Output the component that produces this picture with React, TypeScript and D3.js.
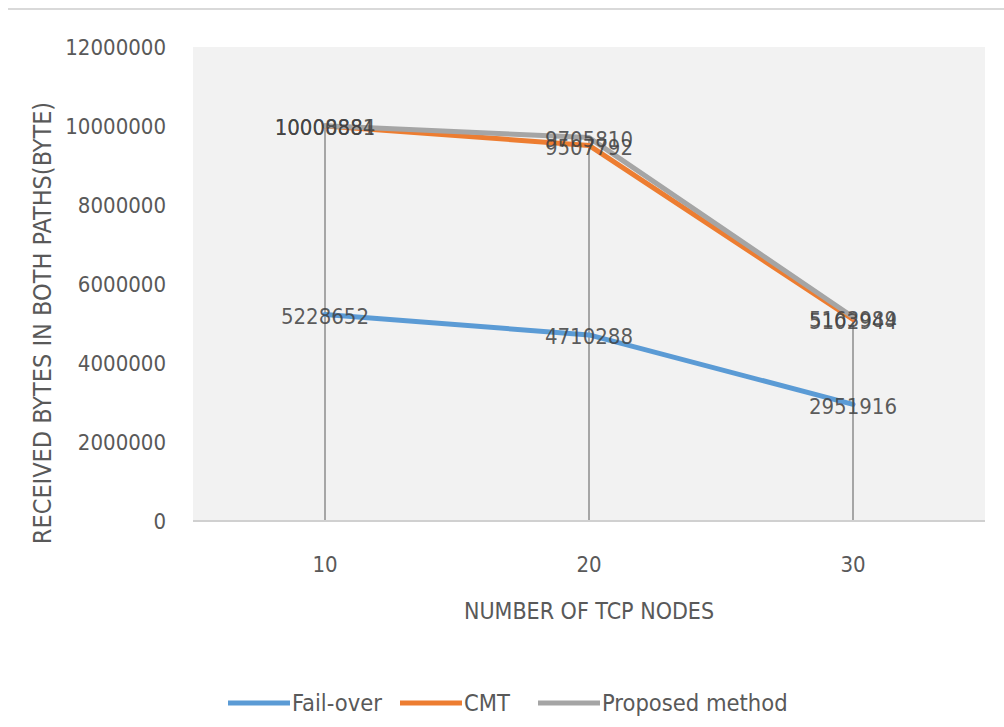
import React from "react";
import * as d3 from "d3";

// Number of TCP nodes on the x axis
const categories = ["10", "20", "30"];
// Received bytes in both paths, per method
const failOver = [5228652, 4710288, 2951916];
const cmt = [10000881, 9507792, 5102944];
const proposed = [10008884, 9705810, 5163989];
const yTicks = [0, 2000000, 4000000, 6000000, 8000000, 10000000, 12000000];

const seriesList = [
  { name: "Fail-over", values: failOver, color: "#5B9BD5" },
  { name: "CMT", values: cmt, color: "#ED7D31" },
  { name: "Proposed method", values: proposed, color: "#A5A5A5" },
];

const W = 1004;
const H = 727;
const plot = { left: 193, right: 985, top: 47, bottom: 521 };
const FONT = "'DejaVu Sans Condensed', 'Open Sans', sans-serif";

export default function App() {
  const x = d3
    .scaleBand<string>()
    .domain(categories)
    .range([plot.left, plot.right])
    .padding(0);
  const y = d3.scaleLinear().domain([0, 12000000]).range([plot.bottom, plot.top]);
  const cx = (c: string) => (x(c) ?? 0) + x.bandwidth() / 2;

  const line = d3
    .line<number>()
    .x((_, i) => cx(categories[i]))
    .y((v) => y(v));

  return (
    <svg width={W} height={H} style={{ position: "absolute", left: 0, top: 0, background: "#fff" }}>
      <line x1={8} x2={W} y1={9} y2={9} stroke="#d9d9d9" strokeWidth={2} />
      <rect
        x={plot.left}
        y={plot.top}
        width={plot.right - plot.left}
        height={plot.bottom - plot.top}
        fill="#f2f2f2"
      />
      {/* drop lines from the highest point of each category */}
      {categories.map((c, i) => {
        const top = d3.max(seriesList, (s) => s.values[i]) ?? 0;
        return (
          <line
            key={"drop" + c}
            x1={cx(c)}
            x2={cx(c)}
            y1={y(top)}
            y2={plot.bottom}
            stroke="#a6a6a6"
            strokeWidth={2}
          />
        );
      })}
      <line x1={plot.left} x2={plot.right} y1={plot.bottom} y2={plot.bottom} stroke="#d0d0d0" strokeWidth={2} />

      {yTicks.map((t) => (
        <text
          key={"yt" + t}
          x={166}
          y={y(t)}
          textAnchor="end"
          dominantBaseline="central"
          fontFamily={FONT}
          fontSize={22}
          fill="#595959"
        >
          {t}
        </text>
      ))}
      {categories.map((c) => (
        <text
          key={"xt" + c}
          x={cx(c)}
          y={564}
          textAnchor="middle"
          dominantBaseline="central"
          fontFamily={FONT}
          fontSize={22}
          fill="#595959"
        >
          {c}
        </text>
      ))}

      {seriesList.map((s) => (
        <path
          key={"ln" + s.name}
          d={line(s.values) ?? ""}
          fill="none"
          stroke={s.color}
          strokeWidth={5}
          strokeLinejoin="round"
          strokeLinecap="round"
        />
      ))}

      {seriesList.map((s) =>
        s.values.map((v, i) => (
          <text
            key={"lb" + s.name + i}
            x={cx(categories[i])}
            y={y(v) + 2}
            textAnchor="middle"
            dominantBaseline="central"
            fontFamily={FONT}
            fontSize={22}
            fill="#404040"
            fillOpacity={0.85}
          >
            {v}
          </text>
        ))
      )}

      <text
        x={589}
        y={611}
        textAnchor="middle"
        dominantBaseline="central"
        fontFamily={FONT}
        fontSize={23}
        fill="#595959"
      >
        NUMBER OF TCP NODES
      </text>
      <text
        transform={`translate(42, 323) rotate(-90)`}
        textAnchor="middle"
        dominantBaseline="central"
        fontFamily={FONT}
        fontSize={25}
        fill="#595959"
      >
        RECEIVED BYTES IN BOTH PATHS(BYTE)
      </text>

      {(() => {
        const starts = [228, 400, 538];
        return seriesList.map((s, i) => (
          <g key={"lg" + s.name} transform={`translate(${starts[i]}, 703)`}>
            <line x1={0} x2={62} y1={0} y2={0} stroke={s.color} strokeWidth={5} />
            <text
              x={64}
              y={0}
              dominantBaseline="central"
              fontFamily={FONT}
              fontSize={23.5}
              fill="#595959"
            >
              {s.name}
            </text>
          </g>
        ));
      })()}
    </svg>
  );
}
